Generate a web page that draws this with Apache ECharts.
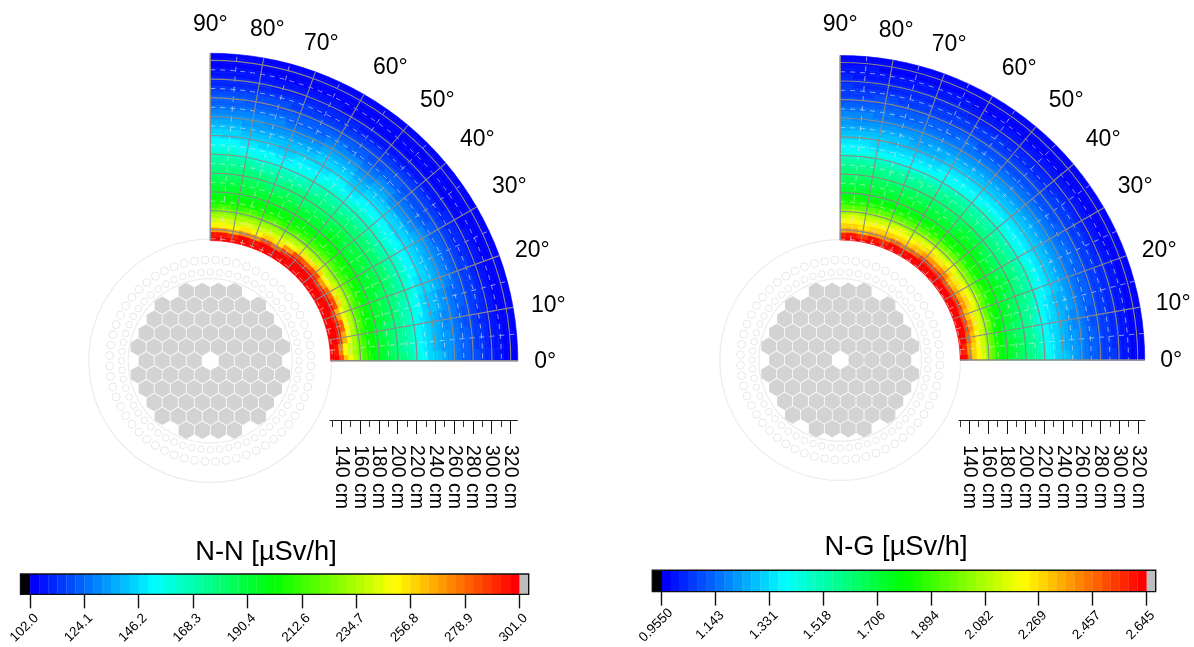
<!DOCTYPE html>
<html><head><meta charset="utf-8"><style>html,body{margin:0;background:#fff}#c{width:1194px;height:647px}</style>
<script src="https://cdn.jsdelivr.net/npm/echarts@6/dist/echarts.min.js"></script></head>
<body><div id="c"></div>
<script>
// radial bin centres (cm) and angular rows (deg)
const radii=[130,135,140,145,150,155,160,165,170,175,180,185,190,195,200,205,210,215,220,225,230,235,240,245,250,255,260,265,270,275,280,285,290,295,300,305,310,315,320,325];
const angles=[0,5,10,15,20,25,30,35,40,45,50,55,60,65,70,75,80,85,90];
// N-N dose per angle row
const nn0=[301,299,288,262,246,236,226,216,206,200,196,192,188,184,181,177,173,169,162,155,150,146,143,139,136,133,130,127,124,122,119,117,114,112,110,108,106,105,104,102];
const nn5=[301,296,272,252,241,232,222,213,204,199,195,191,187,183,179,175,171,166,160,153,149,145,142,138,135,132,129,126,123,121,118,116,114,111,109,107,106,104,103,103];
const nn10=[301,300,291,266,246,234,223,212,203,198,194,190,186,182,178,174,170,165,158,152,148,144,141,138,134,131,128,126,123,120,118,115,113,111,108,107,105,104,103,102];
const nn15=[301,301,297,280,252,238,226,214,205,200,195,191,187,184,180,176,172,167,161,155,150,146,142,139,136,132,129,127,124,121,118,116,114,111,109,107,105,104,103,102];
const nn20=[301,301,292,266,248,236,225,215,206,201,197,193,189,186,182,179,175,171,166,160,154,149,146,143,139,136,132,129,125,122,119,116,114,111,109,107,105,104,103,102];
const nn25=[301,301,298,284,257,240,228,217,207,201,197,194,191,187,184,180,176,172,168,162,156,151,147,144,140,137,133,129,125,122,119,116,113,110,108,106,104,103,102,102];
const nn30=[301,301,297,280,254,239,228,217,207,202,198,194,190,187,183,180,176,172,167,161,155,151,147,143,139,136,132,128,124,121,118,115,112,110,107,105,104,103,102,102];
const nn35=[301,301,293,270,250,237,226,216,207,202,198,194,191,187,184,180,176,171,166,160,154,150,146,143,139,135,131,127,123,120,117,114,111,109,107,105,104,103,102,102];
const nn40=[301,301,300,286,258,241,229,218,208,202,198,194,190,187,183,180,176,172,167,161,155,151,147,143,139,135,131,127,123,120,117,114,111,108,106,104,103,102,102,102];
const nn45=[301,301,298,280,254,238,226,216,207,202,198,195,191,188,184,180,176,172,167,161,156,151,147,144,140,136,132,128,124,121,117,114,111,109,106,104,103,102,102,102];
const nn50=[301,301,299,283,256,240,227,216,206,201,197,193,190,186,182,179,175,170,164,158,153,149,146,142,138,134,130,127,123,120,117,114,111,109,106,104,103,102,102,103];
const nn55=[301,301,292,268,248,236,225,214,205,200,196,192,189,185,182,179,175,171,165,160,155,151,148,144,140,136,132,128,124,121,118,115,112,109,107,105,103,102,102,103];
const nn60=[301,298,276,256,243,233,223,212,204,199,195,191,187,183,180,176,172,168,162,157,153,149,146,143,139,136,132,128,125,121,118,115,112,110,107,105,104,103,102,103];
const nn65=[301,300,288,260,245,234,224,214,205,200,196,192,188,184,180,176,172,167,160,154,150,147,144,140,137,133,130,127,124,121,118,116,113,111,108,106,105,103,103,102];
const nn70=[301,296,270,253,242,232,222,212,204,199,195,191,187,183,179,175,171,165,158,152,148,145,142,139,136,133,130,127,124,121,119,116,114,111,109,107,105,104,103,102];
const nn75=[301,298,274,254,243,233,223,213,204,200,196,192,188,184,180,176,172,167,160,154,150,146,143,140,137,134,131,128,125,122,119,117,114,112,109,107,105,104,103,102];
const nn80=[301,292,262,247,239,231,222,212,204,200,196,192,188,185,181,178,174,169,163,157,152,148,145,142,138,135,132,129,126,123,120,118,115,112,110,108,106,104,103,102];
const nn85=[301,297,270,252,243,233,224,213,205,201,197,193,190,186,183,179,175,171,165,159,154,150,146,143,140,137,133,130,127,124,121,118,116,113,110,108,106,105,104,103];
const nn90=[301,295,268,250,241,232,223,212,204,200,197,193,189,186,182,179,175,170,165,159,154,150,147,143,140,137,134,130,127,124,121,118,116,113,111,109,107,105,104,103];
// N-G dose per angle row
const ng0=[2.64,2.62,2.44,2.29,2.22,2.15,2.05,1.95,1.85,1.79,1.75,1.72,1.69,1.66,1.63,1.60,1.56,1.52,1.46,1.40,1.36,1.33,1.30,1.27,1.24,1.22,1.19,1.17,1.14,1.12,1.10,1.08,1.06,1.05,1.03,1.01,1.00,0.98,0.97,0.96];
const ng5=[2.64,2.58,2.38,2.27,2.21,2.13,2.04,1.94,1.84,1.78,1.74,1.71,1.68,1.65,1.62,1.58,1.55,1.50,1.44,1.38,1.35,1.32,1.29,1.26,1.23,1.21,1.18,1.16,1.14,1.12,1.10,1.08,1.06,1.04,1.02,1.01,0.99,0.98,0.97,0.96];
const ng10=[2.64,2.63,2.48,2.31,2.23,2.14,2.04,1.93,1.83,1.77,1.73,1.70,1.67,1.63,1.60,1.56,1.53,1.48,1.42,1.37,1.33,1.31,1.28,1.25,1.22,1.20,1.18,1.15,1.13,1.11,1.09,1.07,1.05,1.03,1.02,1.00,0.99,0.98,0.97,0.96];
const ng15=[2.64,2.64,2.54,2.37,2.25,2.17,2.07,1.96,1.85,1.79,1.75,1.71,1.68,1.65,1.62,1.58,1.55,1.50,1.44,1.39,1.35,1.32,1.29,1.26,1.24,1.21,1.19,1.16,1.14,1.12,1.10,1.07,1.05,1.04,1.02,1.00,0.99,0.98,0.97,0.96];
const ng20=[2.64,2.64,2.49,2.32,2.24,2.16,2.06,1.95,1.85,1.80,1.76,1.73,1.70,1.67,1.64,1.60,1.57,1.53,1.48,1.42,1.38,1.34,1.31,1.28,1.25,1.22,1.20,1.17,1.14,1.12,1.10,1.07,1.05,1.03,1.02,1.00,0.99,0.98,0.97,0.96];
const ng25=[2.64,2.64,2.56,2.39,2.27,2.19,2.09,1.98,1.87,1.81,1.77,1.74,1.71,1.68,1.65,1.61,1.58,1.54,1.49,1.44,1.39,1.35,1.32,1.29,1.26,1.23,1.20,1.17,1.15,1.12,1.10,1.07,1.05,1.03,1.01,1.00,0.98,0.97,0.96,0.96];
const ng30=[2.64,2.64,2.55,2.36,2.26,2.18,2.08,1.97,1.86,1.80,1.76,1.73,1.70,1.67,1.64,1.61,1.57,1.53,1.48,1.42,1.38,1.35,1.32,1.29,1.26,1.23,1.20,1.17,1.14,1.12,1.09,1.07,1.05,1.03,1.01,0.99,0.98,0.97,0.96,0.96];
const ng35=[2.64,2.64,2.50,2.33,2.25,2.17,2.07,1.96,1.86,1.81,1.77,1.74,1.70,1.67,1.64,1.60,1.57,1.53,1.47,1.42,1.38,1.34,1.31,1.28,1.25,1.22,1.19,1.16,1.14,1.11,1.09,1.07,1.05,1.03,1.01,0.99,0.98,0.97,0.96,0.96];
const ng40=[2.64,2.64,2.57,2.40,2.28,2.19,2.09,1.98,1.87,1.81,1.77,1.74,1.71,1.68,1.64,1.61,1.58,1.53,1.48,1.43,1.38,1.35,1.32,1.28,1.25,1.22,1.19,1.16,1.14,1.11,1.09,1.06,1.04,1.02,1.00,0.99,0.97,0.96,0.96,0.96];
const ng45=[2.64,2.64,2.55,2.37,2.26,2.17,2.07,1.96,1.86,1.81,1.77,1.74,1.71,1.68,1.65,1.61,1.58,1.54,1.49,1.43,1.38,1.35,1.32,1.29,1.26,1.22,1.19,1.17,1.14,1.11,1.09,1.07,1.04,1.02,1.01,0.99,0.97,0.96,0.96,0.96];
const ng50=[2.64,2.64,2.56,2.38,2.27,2.18,2.08,1.96,1.85,1.80,1.76,1.73,1.70,1.66,1.63,1.60,1.57,1.52,1.46,1.41,1.37,1.34,1.31,1.28,1.25,1.21,1.18,1.16,1.13,1.11,1.09,1.06,1.04,1.02,1.01,0.99,0.97,0.96,0.96,0.96];
const ng55=[2.64,2.63,2.48,2.32,2.24,2.16,2.06,1.95,1.85,1.80,1.76,1.72,1.69,1.66,1.63,1.60,1.57,1.53,1.47,1.42,1.38,1.35,1.32,1.29,1.26,1.22,1.19,1.17,1.14,1.11,1.09,1.07,1.05,1.02,1.01,0.99,0.98,0.97,0.96,0.96];
const ng60=[2.64,2.60,2.40,2.28,2.22,2.14,2.05,1.94,1.84,1.79,1.75,1.71,1.68,1.65,1.62,1.58,1.55,1.51,1.45,1.40,1.37,1.34,1.31,1.28,1.25,1.22,1.19,1.17,1.15,1.12,1.09,1.07,1.05,1.03,1.01,1.00,0.98,0.97,0.96,0.96];
const ng65=[2.64,2.62,2.46,2.30,2.23,2.15,2.05,1.95,1.85,1.79,1.75,1.72,1.69,1.65,1.62,1.58,1.55,1.50,1.44,1.38,1.35,1.32,1.29,1.26,1.24,1.21,1.19,1.16,1.14,1.12,1.10,1.07,1.05,1.04,1.02,1.01,0.99,0.98,0.97,0.96];
const ng70=[2.64,2.58,2.37,2.27,2.21,2.13,2.04,1.94,1.84,1.79,1.74,1.71,1.68,1.65,1.61,1.58,1.54,1.49,1.42,1.37,1.34,1.31,1.29,1.26,1.23,1.21,1.19,1.16,1.14,1.12,1.10,1.08,1.06,1.04,1.02,1.01,0.99,0.98,0.97,0.96];
const ng75=[2.64,2.59,2.39,2.28,2.22,2.14,2.05,1.94,1.84,1.79,1.75,1.71,1.68,1.65,1.62,1.58,1.55,1.50,1.44,1.38,1.35,1.32,1.29,1.27,1.24,1.21,1.19,1.16,1.14,1.12,1.10,1.08,1.06,1.04,1.02,1.01,0.99,0.98,0.97,0.96];
const ng80=[2.64,2.55,2.33,2.25,2.20,2.13,2.04,1.94,1.84,1.79,1.75,1.72,1.69,1.66,1.63,1.60,1.56,1.51,1.46,1.40,1.36,1.33,1.30,1.28,1.25,1.22,1.20,1.17,1.15,1.12,1.10,1.09,1.06,1.04,1.03,1.01,1.00,0.98,0.97,0.96];
const ng85=[2.64,2.59,2.38,2.28,2.22,2.15,2.06,1.95,1.85,1.80,1.76,1.73,1.70,1.67,1.64,1.60,1.57,1.53,1.47,1.42,1.37,1.34,1.31,1.29,1.26,1.23,1.20,1.18,1.15,1.13,1.11,1.08,1.07,1.04,1.03,1.01,1.00,0.99,0.98,0.96];
const ng90=[2.64,2.57,2.36,2.27,2.21,2.14,2.05,1.95,1.85,1.80,1.76,1.73,1.70,1.67,1.63,1.60,1.57,1.52,1.47,1.42,1.37,1.34,1.31,1.28,1.26,1.23,1.21,1.18,1.15,1.13,1.11,1.08,1.07,1.05,1.03,1.02,1.00,0.99,0.98,0.96];
const nnRows=[nn0,nn5,nn10,nn15,nn20,nn25,nn30,nn35,nn40,nn45,nn50,nn55,nn60,nn65,nn70,nn75,nn80,nn85,nn90];
const ngRows=[ng0,ng5,ng10,ng15,ng20,ng25,ng30,ng35,ng40,ng45,ng50,ng55,ng60,ng65,ng70,ng75,ng80,ng85,ng90];
const nnTickLabels=["102.0","124.1","146.2","168.3","190.4","212.6","234.7","256.8","278.9","301.0"];
const ngTickLabels=["0.9550","1.143","1.331","1.518","1.706","1.894","2.082","2.269","2.457","2.645"];
const angleTicks=[0,10,20,30,40,50,60,70,80,90];
const angleMinor=[5,15,25,35,45,55,65,75,85];
const radiusTicks=[140,160,180,200,220,240,260,280,300,320];
const radiusMinor=[130,150,170,190,210,230,250,270,290,310];
const rulerMinor=[130,150,170,190,210,230,250,270,290,310];
const hexRowCounts=[4,7,8,9,10,9,10,9,8,7,4];
const LEVELS=54;
const font='"Liberation Sans",Arial,sans-serif';

function rainbow(c){ // blue-cyan-green-yellow-red
  const s=[[0,0,255],[0,255,255],[0,255,0],[255,255,0],[255,0,0]];
  const p=Math.min(3.9999,Math.max(0,c)*4),i=Math.floor(p),f=p-i;
  const m=s[i].map((v,k)=>Math.round(v+(s[i+1][k]-v)*f));
  return `rgb(${m[0]},${m[1]},${m[2]})`;
}
const bandColor=i=>rainbow(i/(LEVELS-1));

const plots=[
 {rows:nnRows,labels:nnTickLabels,title:'N-N [µSv/h]',center:[210.3,360.8],rad:307.5,rMin:128,rMax:327.5,
  labelOff:[[335,0],[338,-56],[322,-111],[299,-175],[267,-222],[227,-261],[180,-294],[111,-318],[57,-332],[0,-337]],
  ruler:{left:330,top:419,width:187.5},
  bar:{left:20.5,top:574,width:508.2,height:22},barExt:[98.1,304.9],titleX:261,titleY:534},
 {rows:ngRows,labels:ngTickLabels,title:'N-G [µSv/h]',center:[840.2,360],rad:304.5,rMin:129,rMax:327.5,
  labelOff:[[331,0],[333,-57],[319,-110],[295,-174],[263,-221],[226,-260],[179,-292],[109,-316],[56,-330],[0,-336]],
  ruler:{left:959,top:419,width:186},
  bar:{left:652.3,top:570.3,width:503.4,height:21.4},barExt:[0.9222,2.6778],titleX:891,titleY:529}
];

const option={animation:false,backgroundColor:'#fff',title:[],polar:[],radiusAxis:[],angleAxis:[],grid:[],xAxis:[],yAxis:[],series:[]};

function geo(params,api){
  const cs=params.coordSys,cx=cs.cx,cy=cs.cy;
  const rp=r=>{const p=api.coord([r,0]);return Math.hypot(p[0]-cx,p[1]-cy);};
  return {cx,cy,rp};
}

plots.forEach((P,pi)=>{
  option.title.push({text:P.title,left:P.titleX,top:P.titleY,textAlign:'center',textStyle:{fontFamily:font,fontSize:27.3,fontWeight:'normal',color:'#000'}});
  option.polar.push({center:P.center,radius:P.rad});
  option.radiusAxis.push({polarIndex:pi,type:'value',min:0,max:P.rMax,show:false});
  option.angleAxis.push({polarIndex:pi,type:'value',min:0,max:360,startAngle:0,clockwise:false,show:false});
  const pol={coordinateSystem:'polar',polarIndex:pi,silent:true};

  // --- core sketch: hexagonal lattice given in polar form around the origin
  const pitch=17.07,rowH=14.78,hexR=9.35;
  const hexes=[];
  hexRowCounts.forEach((n,k)=>{
    const y=(5-k)*rowH;
    for(let j=0;j<n;j++){
      const x=(j-(n-1)/2)*pitch;
      if(x===0&&y===0) continue;
      hexes.push([Math.hypot(x,y),(Math.atan2(y,x)*180/Math.PI+360)%360]);
    }
  });
  option.series.push(Object.assign({},pol,{type:'custom',z:1,data:hexes,renderItem(params,api){
    const g=geo(params,api),s=g.rp(1),c=api.coord([api.value(0),api.value(1)]),pts=[];
    for(let a=0;a<6;a++){const t=Math.PI/6+a*Math.PI/3;pts.push([c[0]+hexR*s*Math.cos(t),c[1]+hexR*s*Math.sin(t)]);}
    return {type:'polygon',shape:{points:pts},style:{fill:'#d3d3d3'}};
  }}));
  const rods=[];
  for(let a=0;a<60;a++){rods.push([94.6,a*6,3.5]);rods.push([107.4,a*6+3,4.2]);}
  rods.push([87.5,0,0]);rods.push([129.5,0,0]);
  option.series.push(Object.assign({},pol,{type:'custom',z:1,data:rods,renderItem(params,api){
    const g=geo(params,api),s=g.rp(1),q=api.value(2);
    if(q===0) return {type:'circle',shape:{cx:g.cx,cy:g.cy,r:api.value(0)*s},style:{fill:'none',stroke:'#ececec',lineWidth:1.2}};
    const c=api.coord([api.value(0),api.value(1)]);
    return {type:'circle',shape:{cx:c[0],cy:c[1],r:q*s},style:{fill:'#fff',stroke:'#e8e8e8',lineWidth:1}};
  }}));

  // --- dose cells
  const [lo,hi]=[Number(P.labels[0]),Number(P.labels[P.labels.length-1])];
  const cells=[];
  P.rows.forEach((row,ai)=>row.forEach((v,ri)=>cells.push([radii[ri],angles[ai],v])));
  option.series.push(Object.assign({},pol,{type:'custom',z:2,data:cells,renderItem(params,api){
    const g=geo(params,api),r=api.value(0),a=api.value(1),v=api.value(2);
    const r0=Math.max(P.rMin,r-2.5),r1=Math.min(P.rMax,r+2.5);
    const a0=Math.max(0,a-2.5),a1=Math.min(90,a+2.5);
    const lvl=Math.max(0,Math.min(LEVELS-1,Math.floor((v-lo)/(hi-lo)*LEVELS)));
    const col=bandColor(lvl);
    return {type:'sector',shape:{cx:g.cx,cy:g.cy,r0:g.rp(r0),r:g.rp(r1),startAngle:-a1*Math.PI/180,endAngle:-a0*Math.PI/180,clockwise:true},
      style:{fill:col,stroke:col,lineWidth:0.6}};
  }}));

  // --- dashed minor grid
  option.series.push(Object.assign({},pol,{type:'custom',z:3,data:radiusMinor.map(r=>[r]),renderItem(params,api){
    const g=geo(params,api);
    return {type:'arc',shape:{cx:g.cx,cy:g.cy,r:g.rp(api.value(0)),startAngle:-Math.PI/2,endAngle:0,clockwise:true},
      style:{fill:'none',stroke:'rgba(225,225,225,0.65)',lineWidth:1,lineDash:[5,5]}};
  }}));
  option.series.push(Object.assign({},pol,{type:'custom',z:3,data:angleMinor.map(a=>[0,a]),renderItem(params,api){
    const a=api.value(1),p0=api.coord([P.rMin,a]),p1=api.coord([P.rMax,a]);
    return {type:'line',shape:{x1:p0[0],y1:p0[1],x2:p1[0],y2:p1[1]},
      style:{stroke:'rgba(225,225,225,0.65)',lineWidth:1,lineDash:[5,5]}};
  }}));
  // --- solid grid
  option.series.push(Object.assign({},pol,{type:'custom',z:4,data:radiusTicks.map(r=>[r]),renderItem(params,api){
    const g=geo(params,api);
    return {type:'arc',shape:{cx:g.cx,cy:g.cy,r:g.rp(api.value(0)),startAngle:-Math.PI/2,endAngle:0,clockwise:true},
      style:{fill:'none',stroke:'#8a8a8a',lineWidth:1.1}};
  }}));
  option.series.push(Object.assign({},pol,{type:'custom',z:4,data:angleTicks.map(a=>[0,a]),renderItem(params,api){
    const a=api.value(1),p0=api.coord([P.rMin,a]),p1=api.coord([P.rMax,a]);
    return {type:'line',shape:{x1:p0[0],y1:p0[1],x2:p1[0],y2:p1[1]},
      style:{stroke:'#8a8a8a',lineWidth:(a===0||a===90)?1.4:1.1}};
  }}));
  // --- angle labels
  option.series.push(Object.assign({},pol,{type:'custom',z:5,data:angleTicks.map((a,i)=>[i,a]),renderItem(params,api){
    const g=geo(params,api),o=P.labelOff[api.value(0)];
    return {type:'text',style:{text:api.value(1)+'°',x:g.cx+o[0],y:g.cy+o[1]+1,textAlign:'center',textVerticalAlign:'middle',fontFamily:font,fontSize:23,fill:'#000'}};
  }}));

  // --- ruler: long ticks split over two axes so no tick label gets dropped
  const gi=option.grid.length;
  option.grid.push({left:P.ruler.left,top:P.ruler.top,width:P.ruler.width,height:1,containLabel:false});
  const axLine={show:true,lineStyle:{color:'#222',width:1}};
  [radiusTicks.filter((v,i)=>i%2===0),radiusTicks.filter((v,i)=>i%2===1)].forEach((vals,k)=>{
    option.xAxis.push({gridIndex:gi,type:'value',position:'bottom',min:P.rMin,max:P.rMax,axisLine:k===0?axLine:{show:false},splitLine:{show:false},
      axisTick:{show:true,length:14,customValues:vals,lineStyle:{color:'#111',width:1}},
      axisLabel:{show:true,customValues:vals,showMinLabel:true,showMaxLabel:true,rotate:-90,margin:25,fontFamily:font,fontSize:19.5,color:'#000',hideOverlap:false,formatter:v=>v+' cm'}});
  });
  option.yAxis.push({gridIndex:gi,type:'value',min:0,max:1,show:false});
  option.xAxis.push({gridIndex:gi,type:'value',position:'bottom',min:P.rMin,max:P.rMax,axisLine:{show:false},splitLine:{show:false},
    axisTick:{show:true,length:7,customValues:rulerMinor,lineStyle:{color:'#333',width:1}},axisLabel:{show:false}});

  // --- colour bar
  const bi=option.grid.length;
  option.grid.push({left:P.bar.left,top:P.bar.top,width:P.bar.width,height:P.bar.height});
  const ticks=P.labels.map(Number);
  option.xAxis.push({gridIndex:bi,type:'value',position:'bottom',min:P.barExt[0],max:P.barExt[1],axisLine:{show:false},splitLine:{show:false},
    axisTick:{show:true,length:14,customValues:ticks,lineStyle:{color:'#111',width:1.4}},
    axisLabel:{show:true,customValues:ticks,showMinLabel:true,showMaxLabel:true,rotate:45,align:'center',verticalAlign:'middle',margin:28,padding:[0,16,0,0],hideOverlap:false,
      fontFamily:font,fontSize:13.5,color:'#000',formatter:v=>P.labels[ticks.indexOf(v)]}});
  const bx=option.xAxis.length-1;
  option.yAxis.push({gridIndex:bi,type:'value',min:0,max:1,show:false});
  const by=option.yAxis.length-1;
  const bands=[[P.barExt[0],lo,'#000'],[hi,P.barExt[1],'#bebebe']];
  for(let i=0;i<LEVELS;i++)bands.push([lo+(hi-lo)*i/LEVELS,lo+(hi-lo)*(i+1)/LEVELS,i]);
  option.series.push({type:'custom',coordinateSystem:'cartesian2d',xAxisIndex:bx,yAxisIndex:by,silent:true,z:2,clip:false,encode:{x:[0,1]},
    data:bands.map(b=>[b[0],b[1]]),
    renderItem(params,api){
      const a=api.coord([api.value(0),1]),b=api.coord([api.value(1),0]);
      const c=bands[params.dataIndex];
      const col=typeof c[2]==='string'?c[2]:bandColor(c[2]);
      return {type:'rect',shape:{x:a[0],y:a[1],width:b[0]-a[0]+0.3,height:b[1]-a[1]},style:{fill:col}};
    }});
  option.series.push({type:'custom',coordinateSystem:'cartesian2d',xAxisIndex:bx,yAxisIndex:by,silent:true,z:3,clip:false,encode:{x:[0,1]},
    data:[[P.barExt[0],P.barExt[1]]],renderItem(params,api){
      const a=api.coord([api.value(0),1]),b=api.coord([api.value(1),0]);
      return {type:'rect',shape:{x:a[0],y:a[1],width:b[0]-a[0],height:b[1]-a[1]},style:{fill:'none',stroke:'#111',lineWidth:1.4}};
    }});
});
echarts.init(document.getElementById('c'),null,{renderer:'canvas'}).setOption(option);
</script></body></html>
